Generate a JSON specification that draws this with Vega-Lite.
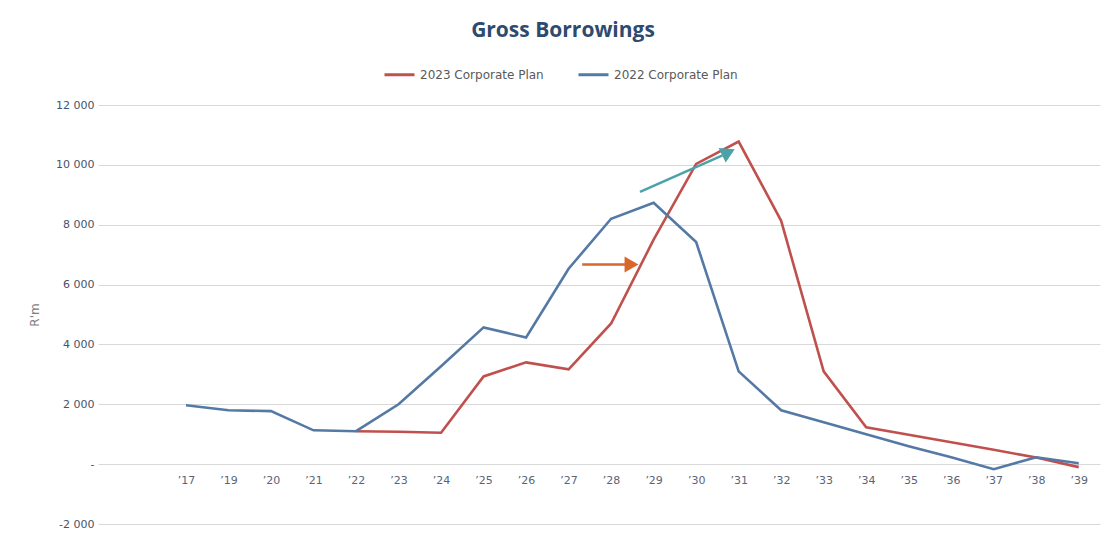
{
  "$schema": "https://vega.github.io/schema/vega-lite/v6.json",
  "width": 1002,
  "height": 419,
  "autosize": "none",
  "padding": {"left": 98, "top": 105, "right": 14, "bottom": 13},
  "background": "white",
  "config": {"view": {"stroke": null}, "font": "DejaVu Sans"},
  "title": {
    "text": "Gross Borrowings",
    "font": "Open Sans",
    "fontSize": 21,
    "fontWeight": "bold",
    "color": "#2e4a6e",
    "anchor": "middle",
    "dx": -36,
    "offset": 17
  },
  "datasets": {
    "series": [
      {"year": "'17", "pos": 0, "plan": "2022 Corporate Plan", "value": 1970},
      {"year": "'19", "pos": 1, "plan": "2022 Corporate Plan", "value": 1800},
      {"year": "'20", "pos": 2, "plan": "2022 Corporate Plan", "value": 1770},
      {"year": "'21", "pos": 3, "plan": "2022 Corporate Plan", "value": 1130},
      {"year": "'22", "pos": 4, "plan": "2022 Corporate Plan", "value": 1100},
      {"year": "'23", "pos": 5, "plan": "2022 Corporate Plan", "value": 2000},
      {"year": "'24", "pos": 6, "plan": "2022 Corporate Plan", "value": 3270},
      {"year": "'25", "pos": 7, "plan": "2022 Corporate Plan", "value": 4570},
      {"year": "'26", "pos": 8, "plan": "2022 Corporate Plan", "value": 4230},
      {"year": "'27", "pos": 9, "plan": "2022 Corporate Plan", "value": 6530},
      {"year": "'28", "pos": 10, "plan": "2022 Corporate Plan", "value": 8200},
      {"year": "'29", "pos": 11, "plan": "2022 Corporate Plan", "value": 8730},
      {"year": "'30", "pos": 12, "plan": "2022 Corporate Plan", "value": 7420},
      {"year": "'31", "pos": 13, "plan": "2022 Corporate Plan", "value": 3100},
      {"year": "'32", "pos": 14, "plan": "2022 Corporate Plan", "value": 1800},
      {"year": "'33", "pos": 15, "plan": "2022 Corporate Plan", "value": 1400},
      {"year": "'34", "pos": 16, "plan": "2022 Corporate Plan", "value": 1000},
      {"year": "'35", "pos": 17, "plan": "2022 Corporate Plan", "value": 600},
      {"year": "'36", "pos": 18, "plan": "2022 Corporate Plan", "value": 230},
      {"year": "'37", "pos": 19, "plan": "2022 Corporate Plan", "value": -170},
      {"year": "'38", "pos": 20, "plan": "2022 Corporate Plan", "value": 230},
      {"year": "'39", "pos": 21, "plan": "2022 Corporate Plan", "value": 30},
      {"year": "'22", "pos": 4, "plan": "2023 Corporate Plan", "value": 1100},
      {"year": "'23", "pos": 5, "plan": "2023 Corporate Plan", "value": 1080},
      {"year": "'24", "pos": 6, "plan": "2023 Corporate Plan", "value": 1050},
      {"year": "'25", "pos": 7, "plan": "2023 Corporate Plan", "value": 2930},
      {"year": "'26", "pos": 8, "plan": "2023 Corporate Plan", "value": 3400},
      {"year": "'27", "pos": 9, "plan": "2023 Corporate Plan", "value": 3170},
      {"year": "'28", "pos": 10, "plan": "2023 Corporate Plan", "value": 4700},
      {"year": "'29", "pos": 11, "plan": "2023 Corporate Plan", "value": 7500},
      {"year": "'30", "pos": 12, "plan": "2023 Corporate Plan", "value": 10030},
      {"year": "'31", "pos": 13, "plan": "2023 Corporate Plan", "value": 10780},
      {"year": "'32", "pos": 14, "plan": "2023 Corporate Plan", "value": 8130},
      {"year": "'33", "pos": 15, "plan": "2023 Corporate Plan", "value": 3100},
      {"year": "'34", "pos": 16, "plan": "2023 Corporate Plan", "value": 1230},
      {"year": "'35", "pos": 17, "plan": "2023 Corporate Plan", "value": 980},
      {"year": "'36", "pos": 18, "plan": "2023 Corporate Plan", "value": 730},
      {"year": "'37", "pos": 19, "plan": "2023 Corporate Plan", "value": 480},
      {"year": "'38", "pos": 20, "plan": "2023 Corporate Plan", "value": 220},
      {"year": "'39", "pos": 21, "plan": "2023 Corporate Plan", "value": -100}
    ],
    "arrows": [
      {"name": "teal", "x": 10.68, "y": 9100, "x2": 12.62, "y2": 10320, "hx": 12.76, "hy": 10420, "angle": 334, "color": "#4aa3a6"},
      {"name": "orange", "x": 9.32, "y": 6670, "x2": 10.38, "y2": 6670, "hx": 10.48, "hy": 6670, "angle": 0, "color": "#d9672a"}
    ]
  },
  "layer": [
    {
      "data": {"name": "series"},
      "transform": [{"filter": "datum.plan == '2023 Corporate Plan'"}],
      "mark": {"type": "line", "strokeWidth": 2.6},
      "encoding": {
        "x": {
          "field": "pos",
          "type": "quantitative",
          "scale": {"domain": [-2.07, 21.5], "nice": false, "zero": false},
          "axis": {
            "title": null,
            "values": [0,1,2,3,4,5,6,7,8,9,10,11,12,13,14,15,16,17,18,19,20,21],
            "labelExpr": "['’17','’19','’20','’21','’22','’23','’24','’25','’26','’27','’28','’29','’30','’31','’32','’33','’34','’35','’36','’37','’38','’39'][datum.value]",
            "grid": false,
            "domain": false,
            "ticks": false,
            "offset": -60,
            "labelPadding": 10,
            "labelFontSize": 11,
            "labelColor": "#5a6478",
            "labelFlush": false
          }
        },
        "y": {
          "field": "value",
          "type": "quantitative",
          "scale": {"domain": [-2000, 12000], "nice": false},
          "axis": {
            "title": "R'm",
            "titleFontSize": 12,
            "titleFontWeight": "normal",
            "titleColor": "#808080",
            "titlePadding": 14,
            "values": [-2000, 0, 2000, 4000, 6000, 8000, 10000, 12000],
            "labelExpr": "datum.value == 0 ? '-' : replace(replace(format(datum.value, ','), ',', ' '), '−', '-')",
            "labelFontSize": 11,
            "labelColor": "#44546a",
            "labelPadding": 4,
            "grid": true,
            "gridColor": "#d9d9d9",
            "gridWidth": 1,
            "domain": false,
            "ticks": false
          }
        },
        "color": {
          "field": "plan",
          "type": "nominal",
          "scale": {"domain": ["2023 Corporate Plan", "2022 Corporate Plan"], "range": ["#c0504d", "#5479a5"]},
          "legend": {
            "title": null,
            "orient": "none",
            "direction": "horizontal",
            "legendX": 285,
            "legendY": -47,
            "symbolType": "stroke",
            "symbolStrokeWidth": 3,
            "symbolSize": 900,
            "labelFontSize": 12,
            "labelColor": "#595959",
            "columnPadding": 28,
            "labelOffset": 4
          }
        }
      }
    },
    {
      "data": {"name": "series"},
      "transform": [{"filter": "datum.plan == '2022 Corporate Plan'"}],
      "mark": {"type": "line", "strokeWidth": 2.6},
      "encoding": {
        "x": {"field": "pos", "type": "quantitative"},
        "y": {"field": "value", "type": "quantitative"},
        "color": {"field": "plan", "type": "nominal"}
      }
    },
    {
      "data": {"name": "arrows"},
      "mark": {"type": "rule", "strokeWidth": 2.5},
      "encoding": {
        "x": {"field": "x", "type": "quantitative"},
        "y": {"field": "y", "type": "quantitative"},
        "x2": {"field": "x2"},
        "y2": {"field": "y2"},
        "color": {"field": "color", "type": "nominal", "scale": null, "legend": null}
      }
    },
    {
      "data": {"name": "arrows"},
      "mark": {"type": "point", "shape": "triangle-right", "filled": true, "size": 260, "opacity": 1},
      "encoding": {
        "x": {"field": "hx", "type": "quantitative"},
        "y": {"field": "hy", "type": "quantitative"},
        "angle": {"field": "angle", "type": "quantitative", "scale": null},
        "color": {"field": "color", "type": "nominal", "scale": null, "legend": null}
      }
    }
  ]
}
